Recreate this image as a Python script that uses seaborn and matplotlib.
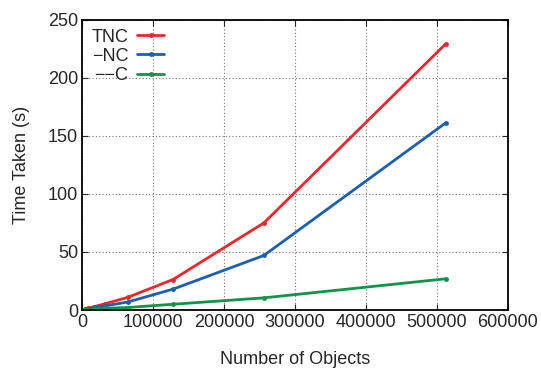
import matplotlib
matplotlib.use("Agg")
import matplotlib.pyplot as plt
import numpy as np
import pandas as pd
import seaborn as sns

# values
objects = [2000, 4000, 8000, 16000, 32000, 64000, 128000, 256000, 512000]
tnc = [0.3, 0.7, 1.4, 2.8, 5.4, 10.9, 26.3, 75.0, 229.0]
nc = [0.2, 0.5, 0.9, 1.8, 3.6, 6.9, 18.0, 47.0, 161.0]
c = [0.1, 0.2, 0.4, 0.8, 1.5, 2.2, 5.0, 10.5, 26.9]
labels = ["TNC", "\u2212NC", "\u2212\u2212C"]
colors = ["#e8282d", "#1c5eb0", "#13934a"]

df = pd.DataFrame({
    "Number of Objects": objects * 3,
    "Time Taken (s)": tnc + nc + c,
    "series": [labels[0]] * len(objects) + [labels[1]] * len(objects) + [labels[2]] * len(objects),
})

sns.set_style("ticks")
plt.rcParams["font.family"] = ["Liberation Sans", "DejaVu Sans"]

fig = plt.figure(figsize=(5.41, 3.70), dpi=100)
ax = fig.add_axes([0.152, 0.162, 0.787, 0.785])

sns.lineplot(data=df, x="Number of Objects", y="Time Taken (s)", hue="series",
             palette=colors, marker="o", markersize=3.5, markeredgewidth=0,
             linewidth=2, ax=ax)

ax.set_xlim(0, 600000)
ax.set_ylim(0, 250)
ax.set_xticks(np.arange(0, 600001, 100000))
ax.set_yticks(np.arange(0, 251, 50))
ax.grid(True, color="#777777", linestyle=(0, (1, 2)), linewidth=0.8)
ax.tick_params(direction="in", top=True, right=True, length=4, labelsize=13, width=0.8, pad=3)
for s in ax.spines.values():
    s.set_linewidth(1.3)
    s.set_color("black")
ax.set_xlabel("Number of Objects", fontsize=13, labelpad=14)
ax.set_ylabel("Time Taken (s)", fontsize=13, labelpad=13)

leg = ax.legend(loc="upper left", markerfirst=False, frameon=False, fontsize=13,
                handlelength=1.5, handletextpad=0.5, labelspacing=0.12,
                borderaxespad=0.2, borderpad=0.3)

fig.savefig("out.png", dpi=100)
